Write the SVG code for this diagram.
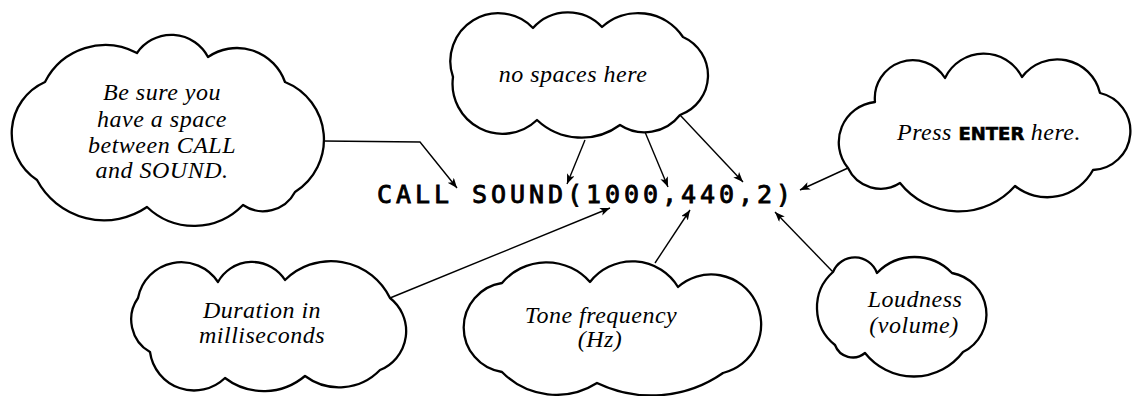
<svg xmlns="http://www.w3.org/2000/svg" width="1140" height="396" viewBox="0 0 1140 396">
<style>
.cloud{fill:#fff;stroke:#000;stroke-width:2.3;stroke-linejoin:round}
.lbl{font-family:"Liberation Serif","Times New Roman",serif;font-style:italic;font-size:24px;fill:#000;letter-spacing:0.5px}
.mid{text-anchor:middle}
.enter{font-family:"DejaVu Sans",sans-serif;font-style:normal;font-weight:bold;font-size:18px;letter-spacing:0;stroke:#000;stroke-width:0.6}
.code{font-family:"DejaVu Sans Mono","Liberation Mono",monospace;font-weight:normal;font-size:25px;letter-spacing:3.95px;fill:#000;stroke:#000;stroke-width:0.9}
.conn{fill:none;stroke:#000;stroke-width:1.4;marker-end:url(#arr)}
</style>
<defs>
<marker id="arr" markerUnits="userSpaceOnUse" markerWidth="12" markerHeight="10" refX="10" refY="4" orient="auto">
<path d="M0,0 L10,4 L0,8 L2.5,4 Z" fill="#000"/>
</marker>
</defs>
<rect width="1140" height="396" fill="#fff"/>
<g id="cloud-space">
<path class="cloud" d="M45,82 A67.6,67.6 0 0 1 137,53 A41.5,41.5 0 0 1 208,57 A51,51 0 0 1 285,82 A62,62 0 0 1 295,192 A36,36 0 0 1 243,205 A68,68 0 0 1 147,207 A76,76 0 0 1 37,180 A56,56 0 0 1 45,82 Z"/>
<text class="lbl mid"><tspan x="162" y="100">Be sure you</tspan><tspan x="162" y="127">have a space</tspan><tspan x="162" y="153">between CALL</tspan><tspan x="162" y="178">and SOUND.</tspan></text>
</g>
<g id="cloud-nospaces">
<path class="cloud" d="M453,77 A48,48 0 0 1 533,28 A47,47 0 0 1 602,27 A54,54 0 0 1 683,37 A42,42 0 0 1 680,115 A45,45 0 0 1 620,125 A65,65 0 0 1 537,120 A50,50 0 0 1 453,77 Z"/>
<text class="lbl mid" x="573" y="82">no spaces here</text>
</g>
<g id="cloud-enter">
<path class="cloud" d="M848,168 A40.5,40.5 0 0 1 875,102 A38,38 0 0 1 945,78 A43,43 0 0 1 1022,77 A44,44 0 0 1 1100,93 A39,39 0 0 1 1093,170 A52,52 0 0 1 1015,186 A75,75 0 0 1 900,183 A36,36 0 0 1 848,168 Z"/>
<text class="lbl" x="897" y="140">Press <tspan class="enter">ENTER</tspan> here.</text>
</g>
<g id="cloud-duration">
<path class="cloud" d="M138,298 A44,44 0 0 1 218,282 A39,39 0 0 1 285,280 A65.5,65.5 0 0 1 390,298 A42,42 0 0 1 380,370 A57,57 0 0 1 305,376 A64,64 0 0 1 225,378 A44.5,44.5 0 0 1 150,352 A37.5,37.5 0 0 1 138,298 Z"/>
<text class="lbl mid"><tspan x="262" y="318">Duration in</tspan><tspan x="262" y="343">milliseconds</tspan></text>
</g>
<g id="cloud-tone">
<path class="cloud" d="M502,283 A58,58 0 0 1 590,282 A53.6,53.6 0 0 1 678,287 A50,50 0 1 1 723,373 A125,125 0 0 1 597,383 A76,76 0 0 1 502,372 A45,45 0 0 1 502,283 Z"/>
<text class="lbl mid"><tspan x="601" y="323">Tone frequency</tspan><tspan x="600" y="347">(Hz)</tspan></text>
</g>
<g id="cloud-loudness">
<path class="cloud" d="M833,272 A23.6,23.6 0 0 1 877,273 A52,52 0 0 1 952,273 A42,42 0 0 1 963,352 A62,62 0 0 1 865,353 A19,19 0 0 1 835,345 A47.7,47.7 0 0 1 833,272 Z"/>
<text class="lbl mid"><tspan x="915" y="307">Loudness</tspan><tspan x="914" y="333">(volume)</tspan></text>
</g>
<g id="command">
<text class="code" x="377" y="203">CALL SOUND(1000,440,2)</text>
</g>
<g id="connectors">
<polyline class="conn" points="323,141 420,142 457,188"/>
<line class="conn" x1="585" y1="140" x2="567" y2="184"/>
<line class="conn" x1="645" y1="132" x2="668" y2="187"/>
<line class="conn" x1="680" y1="115" x2="743" y2="182"/>
<line class="conn" x1="848" y1="168" x2="800" y2="190"/>
<line class="conn" x1="390" y1="298" x2="610" y2="208"/>
<line class="conn" x1="655" y1="263" x2="690" y2="210"/>
<line class="conn" x1="833" y1="272" x2="775" y2="212"/>
</g>
</svg>
